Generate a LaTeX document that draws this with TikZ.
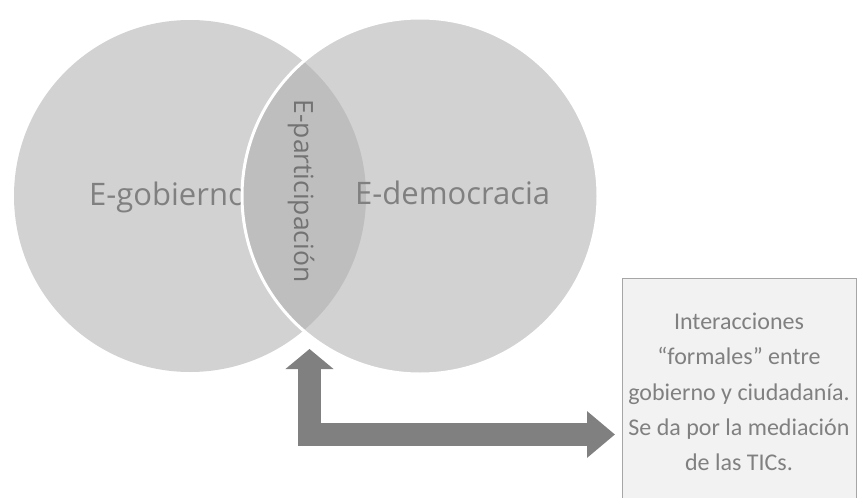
\documentclass[tikz,border=0pt]{standalone}
\usepackage{fontspec}
\setmainfont{Carlito}
\newfontfamily\circlefont{Open Sans}
\usetikzlibrary{arrows.meta}

\newlength{\du}
\setlength{\du}{1pt}

\definecolor{circlegray}{RGB}{210,210,210}
\definecolor{lensgray}{RGB}{190,190,190}
\definecolor{labelgray}{RGB}{128,128,128}
\definecolor{arrowgray}{RGB}{128,128,128}
\definecolor{boxfill}{RGB}{242,242,242}
\definecolor{boxline}{RGB}{166,166,166}

\tikzset{
  circlelabel/.style={text=labelgray, font=\circlefont\fontsize{31}{36}\selectfont, inner sep=0pt, anchor=base west},
  lenslabel/.style={text=labelgray!110, font=\circlefont\fontsize{26.5}{30}\selectfont, inner sep=0pt, rotate=-90},
  infobox/.style={fill=boxfill, draw=boxline, line width=1\du, inner sep=0pt},
  infotext/.style={text=labelgray, font=\fontsize{24}{35.3}\selectfont, align=center, inner sep=0pt},
  bentarrow/.style={draw=arrowgray, line width=23\du, line join=miter,
    {Triangle[width=47pt,length=20pt]}-{Triangle[width=45pt,length=28pt]}}
}

\begin{document}
\begin{tikzpicture}
\pgftransformyscale{-1.000000}
\useasboundingbox (0\du,0\du) rectangle (857\du,498\du);
% left circle
\fill[circlegray] (190\du,196\du) circle (176\du);
\node[circlelabel] (gob) at (89\du,205\du) {E-gobierno};
% right circle
\fill[circlegray] (420\du,196\du) circle (178\du);
% overlap
\begin{scope}
\clip (190\du,196\du) circle (176\du);
\fill[lensgray] (420\du,196\du) circle (178\du);
\end{scope}
\draw[white, line width=3\du] (420\du,196\du) circle (178\du);
\node[circlelabel] (dem) at (355\du,204\du) {E-democracia};
\node[lenslabel] (part) at (301\du,191\du) {E-participación};
% box
\node[infobox, anchor=north west, minimum width=234\du, minimum height=240\du] (info) at (622\du,278\du) {};
\node[infotext] (infotxt) at (739\du,392\du) {Interacciones\\“formales” entre\\gobierno y ciudadanía.\\Se da por la mediación\\de las TICs.};
% arrow
\coordinate (armstart) at (309.5\du,349\du);
\coordinate (armend) at (615\du,434.5\du);
\draw[bentarrow] (armstart) |- (armend);
\end{tikzpicture}
\end{document}
